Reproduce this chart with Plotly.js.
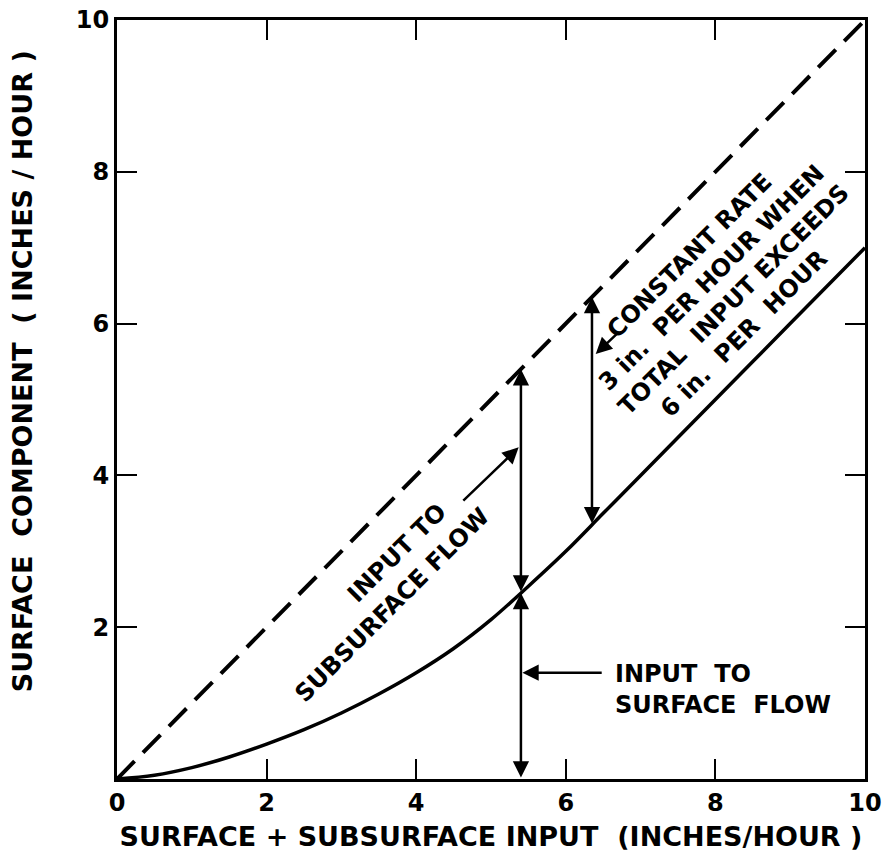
<!DOCTYPE html>
<html>
<head>
<meta charset="utf-8">
<script src="https://cdn.plot.ly/plotly-3.0.1.min.js"></script>
<style>
html, body { margin: 0; padding: 0; background: #fff; }
#chart { width: 882px; height: 863px; }
</style>
</head>
<body>
<div id="chart"></div>
<script>
// Solid curve: surface component vs total input
const totalInput = [0, 0.5, 1, 1.5, 2, 2.5, 3, 3.5, 4, 4.5, 5, 5.5, 6, 6.5, 7, 8, 9, 10];
const surfaceComponent = [0, 0.05, 0.15, 0.29, 0.46, 0.65, 0.87, 1.12, 1.4, 1.72, 2.1, 2.54, 3.0, 3.5, 4, 5, 6, 7];
// Dashed 1:1 line
const oneToOneX = [0, 10];
const oneToOneY = [0, 10];
// Tick labels
const xTicks = [0, 2, 4, 6, 8, 10];
const yTicks = [2, 4, 6, 8, 10];
// Positions of the vertical double arrows (total input)
const arrowInputs = [5.4, 6.35];
// Texts
const xTitle = 'SURFACE + SUBSURFACE INPUT\u00a0 (INCHES/HOUR )';
const yTitle = '\u200b\u00a0\u00a0\u00a0\u00a0\u00a0\u00a0SURFACE\u00a0 COMPONENT\u00a0 (\u00a0INCHES\u00a0/\u00a0HOUR\u00a0)';
const labelSubsurface1 = 'INPUT TO';
const labelSubsurface2 = 'SUBSURFACE FLOW';
const labelSurface = 'INPUT\u00a0 TO<br>SURFACE\u00a0 FLOW';
const labelConstant = 'CONSTANT RATE<br>3 in.\u00a0 PER HOUR WHEN<br>TOTAL\u00a0 INPUT EXCEEDS<br>6 in.\u00a0 PER\u00a0 HOUR\u00a0\u00a0\u00a0\u00a0';

function interp(xs, ys, x) {
  for (let i = 0; i < xs.length - 1; i++) {
    if (x >= xs[i] && x <= xs[i + 1]) {
      const t = (x - xs[i]) / (xs[i + 1] - xs[i]);
      return ys[i] + t * (ys[i + 1] - ys[i]);
    }
  }
  return ys[ys.length - 1];
}

const FONT = 'DejaVu Sans, Arial, sans-serif';
const annFont = { family: FONT, size: 24, color: '#000', weight: 'bold' };

const traces = [
  {
    x: oneToOneX, y: oneToOneY, mode: 'lines', type: 'scatter',
    line: { color: '#000', width: 4, dash: '25px,12px' }, hoverinfo: 'skip'
  },
  {
    x: totalInput, y: surfaceComponent, mode: 'lines', type: 'scatter',
    line: { color: '#000', width: 3.5, shape: 'spline', smoothing: 1 }, hoverinfo: 'skip'
  }
];

const arrowBase = {
  text: '', showarrow: true, xref: 'x', yref: 'y', axref: 'x', ayref: 'y',
  arrowcolor: '#000', arrowwidth: 2.5, arrowhead: 2, arrowsize: 1.3,
  startarrowhead: 2, startarrowsize: 1.3
};

const a1 = arrowInputs[0];
const c1 = interp(totalInput, surfaceComponent, a1);
const d1 = interp(oneToOneX, oneToOneY, a1);
const a2 = arrowInputs[1];
const c2 = interp(totalInput, surfaceComponent, a2);
const d2 = interp(oneToOneX, oneToOneY, a2);

const annotations = [
  // lower double arrow: 0 -> curve
  Object.assign({}, arrowBase, { x: a1, y: c1, ax: a1, ay: 0, arrowside: 'end+start' }),
  // upper double arrow: curve -> dashed
  Object.assign({}, arrowBase, { x: a1, y: d1, ax: a1, ay: c1, arrowside: 'end+start' }),
  // right double arrow
  Object.assign({}, arrowBase, { x: a2, y: d2, ax: a2, ay: c2, arrowside: 'end+start' }),
  // pointer: input to surface flow
  Object.assign({}, arrowBase, { x: a1 + 0.02, y: 1.4, ax: 6.5, ay: 1.4, arrowside: 'end' }),
  // pointer: input to subsurface flow
  Object.assign({}, arrowBase, { x: a1 - 0.03, y: 4.37, ax: 4.61, ay: 3.65, arrowside: 'end' }),
  // pointer: constant rate
  Object.assign({}, arrowBase, { x: a2 + 0.05, y: 5.6, ax: 6.72, ay: 5.9, arrowside: 'end' }),
  // text labels
  { text: labelSubsurface1, x: 3.74, y: 2.98, xref: 'x', yref: 'y', showarrow: false,
    textangle: -45, font: annFont, xanchor: 'center', yanchor: 'middle' },
  { text: labelSubsurface2, x: 3.68, y: 2.29, xref: 'x', yref: 'y', showarrow: false,
    textangle: -45, font: annFont, xanchor: 'center', yanchor: 'middle' },
  { text: labelSurface, x: 6.63, y: 1.18, xref: 'x', yref: 'y', showarrow: false,
    font: annFont, xanchor: 'left', yanchor: 'middle', align: 'left' },
  { text: labelConstant, x: 8.1, y: 6.45, xref: 'x', yref: 'y', showarrow: false,
    textangle: -45, font: annFont, xanchor: 'center', yanchor: 'middle', align: 'center' }
];

const axisCommon = {
  range: [0, 10], showgrid: false, zeroline: false,
  showline: true, linecolor: '#000', linewidth: 3, mirror: 'ticks',
  ticks: 'inside', ticklen: 20, tickwidth: 2, tickcolor: '#000',
  tickfont: { family: FONT, size: 24, color: '#000', weight: 'bold' },
  fixedrange: true
};

const layout = {
  width: 882, height: 863,
  margin: { l: 117, r: 17, t: 20, b: 84 },
  paper_bgcolor: '#fff', plot_bgcolor: '#fff',
  showlegend: false,
  xaxis: Object.assign({}, axisCommon, {
    tickmode: 'array', tickvals: xTicks, ticktext: xTicks.map(String),
    title: { text: xTitle, font: { family: FONT, size: 27, color: '#000', weight: 'bold' }, standoff: 12 }
  }),
  yaxis: Object.assign({}, axisCommon, {
    tickmode: 'array', tickvals: yTicks, ticktext: yTicks.map(String),
    title: { text: yTitle, font: { family: FONT, size: 27, color: '#000', weight: 'bold' }, standoff: 36 }
  }),
  annotations: annotations
};

Plotly.newPlot('chart', traces, layout, { displayModeBar: false, staticPlot: true });
</script>
</body>
</html>
